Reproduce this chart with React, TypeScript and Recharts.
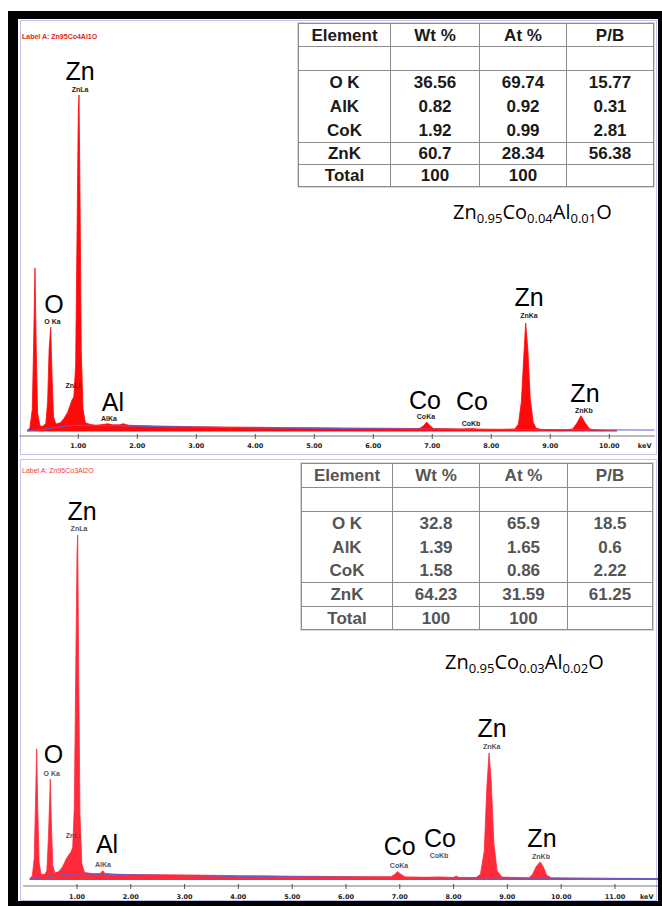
import React from 'react';
import { ComposedChart, Area, Line, XAxis, YAxis, ReferenceDot } from 'recharts';

// ---------- Panel 1 (Zn0.95Co0.04Al0.01O) ----------
const spectrum1: [number, number][] = [
  [0.13, 0.2], [0.18, 1.0], [0.22, 6], [0.245, 25], [0.266, 44], [0.285, 24], [0.31, 5], [0.35, 1.5],
  [0.4, 1.4], [0.45, 2.2], [0.48, 8], [0.505, 22], [0.532, 28.1], [0.555, 15], [0.58, 4], [0.62, 2.0],
  [0.7, 2.4], [0.76, 3.6], [0.82, 5.2], [0.86, 7], [0.893, 8.5], [0.925, 9.3], [0.955, 18], [0.98, 55],
  [1.0, 86], [1.012, 90.6], [1.03, 62], [1.05, 22], [1.08, 6], [1.12, 2.4], [1.2, 1.9], [1.3, 1.7],
  [1.42, 1.9], [1.5, 2.1], [1.58, 1.8], [1.7, 1.8], [1.76, 2.1], [1.85, 1.7], [2.0, 1.6], [2.3, 1.5],
  [2.6, 1.4], [3.0, 1.3], [3.5, 1.2], [4.0, 1.15], [4.5, 1.05], [5.0, 1.0], [5.5, 0.95], [6.0, 0.9],
  [6.5, 0.85], [6.78, 0.8], [6.85, 1.5], [6.905, 2.56], [6.96, 1.6], [7.02, 0.8], [7.5, 0.7], [7.66, 0.8],
  [7.8, 0.65], [8.2, 0.6], [8.4, 0.7], [8.46, 2.0], [8.51, 8], [8.55, 20], [8.583, 29.2], [8.62, 22],
  [8.66, 9], [8.71, 2.5], [8.76, 0.9], [8.85, 0.55], [9.3, 0.5], [9.38, 0.7], [9.45, 2.2], [9.52, 4.25],
  [9.59, 2.4], [9.66, 0.8], [9.72, 0.5], [9.85, 0.4], [10.13, 0.3],
];
const background1: [number, number][] = [
  [0.13, 0.2], [0.4, 0.6], [0.7, 1.3], [1.0, 1.7], [1.5, 1.6], [2.5, 1.3], [4.0, 1.0], [6.0, 0.75], [8.0, 0.55], [10.77, 0.4],
];
const ticks1 = [1, 2, 3, 4, 5, 6, 7, 8, 9, 10];
const unitPos1 = 10.6;
const bigLabels1: [string, number, number][] = [
  ['Zn', 1.029, 94.6], ['O', 0.588, 31.9], ['Al', 1.588, 5.5], ['Co', 6.876, 6.06],
  ['Co', 7.673, 5.79], ['Zn', 8.639, 33.9], ['Zn', 9.588, 7.94],
];
const lineLabels1: [string, number, number][] = [
  ['ZnLa', 1.029, 91.4], ['O Ka', 0.563, 28.9], ['ZnLl', 0.91, 11.7], ['AlKa', 1.52, 2.83],
  ['CoKa', 6.893, 3.36], ['CoKb', 7.656, 1.48], ['ZnKa', 8.639, 30.6], ['ZnKb', 9.571, 4.98],
];
const wt1 = ['36.56', '0.82', '1.92', '60.7', '100'];
const at1 = ['69.74', '0.92', '0.99', '28.34', '100'];
const pb1 = ['15.77', '0.31', '2.81', '56.38', ''];

// ---------- Panel 2 (Zn0.95Co0.03Al0.02O) ----------
const spectrum2: [number, number][] = [
  [0.12, 0.3], [0.17, 1.2], [0.205, 6], [0.23, 22], [0.251, 36.2], [0.27, 20], [0.295, 5], [0.33, 1.6],
  [0.4, 1.5], [0.44, 2.6], [0.47, 12], [0.504, 27.9], [0.525, 15], [0.55, 4], [0.59, 1.9], [0.66, 2.3],
  [0.73, 3.6], [0.8, 5.8], [0.85, 7], [0.888, 7.7], [0.92, 9], [0.95, 20], [0.98, 62], [1.0, 90],
  [1.013, 95.3], [1.03, 60], [1.055, 18], [1.09, 4.5], [1.14, 2.1], [1.3, 1.7], [1.43, 1.8], [1.478, 2.57],
  [1.52, 1.8], [1.7, 1.6], [2.0, 1.5], [2.5, 1.45], [3.0, 1.4], [3.5, 1.3], [4.0, 1.2], [4.5, 1.15],
  [5.0, 1.05], [5.5, 1.0], [6.0, 0.95], [6.5, 0.9], [6.84, 0.9], [6.91, 1.6], [6.96, 2.3], [7.02, 1.6],
  [7.1, 0.85], [7.5, 0.75], [7.75, 0.85], [8.0, 0.7], [8.05, 1.1], [8.1, 0.7], [8.42, 0.7], [8.5, 1.6],
  [8.57, 8], [8.62, 26], [8.66, 35.1], [8.7, 27], [8.75, 10], [8.81, 2.5], [8.9, 0.8], [9.4, 0.6],
  [9.46, 1.4], [9.54, 3.8], [9.61, 4.97], [9.67, 3.6], [9.73, 1.3], [9.82, 0.6], [10.5, 0.5], [11.0, 0.45],
  [11.8, 0.4],
];
const background2: [number, number][] = [
  [0.12, 0.2], [0.4, 0.7], [0.7, 1.4], [1.0, 1.7], [1.5, 1.6], [2.5, 1.3], [4.0, 1.0], [6.0, 0.8], [8.0, 0.6], [11.8, 0.4],
];
const ticks2 = [1, 2, 3, 4, 5, 6, 7, 8, 9, 10, 11];
const unitPos2 = 11.59;
const bigLabels2: [string, number, number][] = [
  ['Zn', 1.093, 99.4], ['O', 0.563, 32.4], ['Al', 1.558, 7.46], ['Co', 7.0, 6.9],
  ['Co', 7.747, 9.1], ['Zn', 8.714, 39.5], ['Zn', 9.643, 9.1],
];
const lineLabels2: [string, number, number][] = [
  ['ZnLa', 1.037, 96.4], ['O Ka', 0.53, 28.8], ['ZnLl', 0.926, 11.6], ['AlKa', 1.483, 3.6],
  ['CoKa', 6.985, 3.3], ['CoKb', 7.729, 6.1], ['ZnKa', 8.708, 36.2], ['ZnKb', 9.625, 5.8],
];
const wt2 = ['32.8', '1.39', '1.58', '64.23', '100'];
const at2 = ['65.9', '1.65', '0.86', '31.59', '100'];
const pb2 = ['18.5', '0.6', '2.22', '61.25', ''];

// ---------- shared ----------
const tableHeader = ['Element', 'Wt %', 'At %', 'P/B'];
const elements = ['O K', 'AlK', 'CoK', 'ZnK', 'Total'];

type Row = { e: number; c: number | null; b: number | null };
function buildRows(spec: [number, number][], bg: [number, number][]): Row[] {
  const map = new Map<number, Row>();
  spec.forEach(([e, c]) => map.set(e, { e, c, b: null }));
  bg.forEach(([e, b]) => {
    const r = map.get(e);
    if (r) r.b = b;
    else map.set(e, { e, c: null, b });
  });
  return Array.from(map.values()).sort((a, b) => a.e - b.e);
}

const BigLabel = (props: any) => {
  const { viewBox, text } = props;
  const x = viewBox.x + (viewBox.width || 0) / 2;
  const y = viewBox.y + (viewBox.height || 0) / 2;
  return (
    <text x={x} y={y} textAnchor="middle" fontSize={25} fontFamily="'Liberation Sans', Arial, sans-serif" fill="#000">
      {text}
    </text>
  );
};

const SmallLabel = (props: any) => {
  const { viewBox, text, color } = props;
  const x = viewBox.x + (viewBox.width || 0) / 2;
  const y = viewBox.y + (viewBox.height || 0) / 2;
  return (
    <text x={x} y={y} textAnchor="middle" fontSize={7} fontWeight="bold" fontFamily="'Liberation Sans', Arial, sans-serif" fill={color}>
      {text}
    </text>
  );
};

const AxisTick = (props: any) => {
  const { x, y, payload, unitAt, dy } = props;
  const v = payload.value;
  const common = { fontSize: 6.5, fontWeight: 'bold' as const, fontFamily: "'DejaVu Sans', sans-serif", fill: '#222' };
  if (Math.abs(v - unitAt) < 1e-6) {
    return (
      <text x={x} y={y + dy} textAnchor="middle" {...common}>keV</text>
    );
  }
  return (
    <g>
      <line x1={x} x2={x} y1={y - 2} y2={y + 3} stroke="#555" strokeWidth={1} />
      <text x={x} y={y + dy} textAnchor="middle" {...common}>{v.toFixed(2)}</text>
    </g>
  );
};

type SpecProps = {
  spec: [number, number][];
  bg: [number, number][];
  ticks: number[];
  unitAt: number;
  xMax: number;
  yMin: number;
  width: number;
  height: number;
  margin: { top: number; right: number; bottom: number; left: number };
  fill: string;
  big: [string, number, number][];
  small: [string, number, number][];
  smallColor: string;
  tickDy: number;
};

const Spectrum = (p: SpecProps) => {
  const rows = buildRows(p.spec, p.bg);
  return (
    <ComposedChart width={p.width} height={p.height} data={rows} margin={p.margin}>
      <XAxis
        dataKey="e"
        type="number"
        domain={[0, p.xMax]}
        ticks={[...p.ticks, p.unitAt]}
        interval={0}
        height={20}
        tickSize={0}
        tickMargin={0}
        tickLine={false}
        axisLine={{ stroke: '#777', strokeWidth: 1 }}
        tick={<AxisTick unitAt={p.unitAt} dy={p.tickDy} />}
        allowDataOverflow
      />
      <YAxis hide type="number" domain={[p.yMin, 100]} allowDataOverflow />
      <Area
        type="linear"
        dataKey="c"
        baseValue={0}
        stroke={p.fill}
        strokeWidth={0.8}
        fill={p.fill}
        fillOpacity={1}
        connectNulls
        dot={false}
        activeDot={false}
        isAnimationActive={false}
      />
      <Line
        type="monotone"
        dataKey="b"
        stroke="#6a5acd"
        strokeWidth={1}
        dot={false}
        activeDot={false}
        connectNulls
        isAnimationActive={false}
      />
    </ComposedChart>
  );
};

// Transparent overlay with the same scales, carrying the peak annotations above the fill.
// The x axis is hidden here, so its 20px height is added to the bottom margin instead.
const Annotations = (p: SpecProps) => {
  const rows = buildRows(p.spec, p.bg);
  const m = { ...p.margin, bottom: p.margin.bottom + 20 };
  return (
    <ComposedChart width={p.width} height={p.height} data={rows} margin={m}>
      <XAxis dataKey="e" type="number" domain={[0, p.xMax]} hide allowDataOverflow />
      <YAxis hide type="number" domain={[p.yMin, 100]} allowDataOverflow />
      {p.big.map(([t, e, c], i) => (
        <ReferenceDot key={'b' + i} x={e} y={c} r={0} fill="none" stroke="none" ifOverflow="visible" label={<BigLabel text={t} />} />
      ))}
      {p.small.map(([t, e, c], i) => (
        <ReferenceDot key={'s' + i} x={e} y={c} r={0} fill="none" stroke="none" ifOverflow="visible" label={<SmallLabel text={t} color={p.smallColor} />} />
      ))}
    </ComposedChart>
  );
};

type TableProps = {
  left: number;
  top: number;
  colWidths: number[];
  rowHeights: number[];
  wt: string[];
  at: string[];
  pb: string[];
  color: string;
};

const EdxTable = (p: TableProps) => {
  const line = '1px solid #8c8c8c';
  const bodyRows = elements.map((el, i) => [el, p.wt[i], p.at[i], p.pb[i]]);
  const all = [tableHeader, ['', '', '', ''], ...bodyRows];
  const total = p.colWidths.reduce((a, b) => a + b, 0);
  return (
    <table
      style={{
        position: 'absolute',
        left: p.left,
        top: p.top,
        borderCollapse: 'collapse',
        tableLayout: 'fixed',
        width: total,
        fontFamily: "'Liberation Sans', Arial, sans-serif",
        fontWeight: 'bold',
        fontSize: 17,
        color: p.color,
        background: '#fff',
        borderBottom: line,
        boxShadow: '0 0 0 1px #d8d8d8',
      }}
    >
      <colgroup>
        {p.colWidths.map((w, i) => (
          <col key={i} style={{ width: w }} />
        ))}
      </colgroup>
      <tbody>
        {all.map((r, ri) => (
          <tr key={ri} style={{ height: p.rowHeights[ri], lineHeight: '17px' }}>
            {r.map((c, ci) => (
              <td
                key={ci}
                style={{
                  padding: 0,
                  textAlign: 'center',
                  verticalAlign: 'middle',
                  borderLeft: line,
                  borderRight: line,
                  borderTop: ri === 3 || ri === 4 ? 'none' : line,
                  borderBottom: 'none',
                }}
              >
                {c}
              </td>
            ))}
          </tr>
        ))}
      </tbody>
    </table>
  );
};

const Formula = ({ left, top, parts }: { left: number; top: number; parts: [string, string][] }) => (
  <div
    style={{
      position: 'absolute',
      left,
      top,
      fontFamily: "'Open Sans', 'Noto Sans', sans-serif",
      fontSize: 20,
      lineHeight: '20px',
      color: '#000',
      whiteSpace: 'nowrap',
    }}
  >
    {parts.map(([m, s], i) => (
      <React.Fragment key={i}>
        <span>{m}</span>
        {s ? <span style={{ fontSize: 13, position: 'relative', top: 4 }}>{s}</span> : null}
      </React.Fragment>
    ))}
  </div>
);

const formula1: [string, string][] = [['Zn', '0.95'], ['Co', '0.04'], ['Al', '0.01'], ['O', '']];
const formula2: [string, string][] = [['Zn', '0.95'], ['Co', '0.03'], ['Al', '0.02'], ['O', '']];

const panel1: SpecProps = {
  spec: spectrum1,
  bg: background1,
  ticks: ticks1,
  unitAt: unitPos1,
  xMax: 10.77,
  yMin: -1.2,
  width: 662,
  height: 460,
  margin: { top: 60, right: 7.3, bottom: 4, left: 19.3 },
  fill: '#ff0a0a',
  big: bigLabels1,
  small: lineLabels1,
  smallColor: '#222',
  tickDy: 11.5,
};

const panel2: SpecProps = {
  spec: spectrum2,
  bg: background2,
  ticks: ticks2,
  unitAt: unitPos2,
  xMax: 11.8,
  yMin: -1.66,
  width: 662,
  height: 448,
  margin: { top: 60, right: 4, bottom: 0, left: 23.2 },
  fill: '#ff2b3a',
  big: bigLabels2,
  small: lineLabels2,
  smallColor: '#555',
  tickDy: 12.8,
};

export default function App() {
  return (
    <div style={{ position: 'absolute', left: 0, top: 0, width: 662, height: 906, background: '#fff', overflow: 'hidden' }}>
      <div style={{ position: 'absolute', left: 8, top: 11, width: 654, height: 895, background: '#000' }} />
      <div style={{ position: 'absolute', left: 18, top: 19, width: 640, height: 882, background: '#fff' }} />
      <div style={{ position: 'absolute', left: 20, top: 20, width: 637, height: 435, border: '1px solid #c4c4ec', boxSizing: 'border-box' }} />
      <div style={{ position: 'absolute', left: 20, top: 459, width: 637, height: 442, border: '1px solid #c4c4ec', boxSizing: 'border-box' }} />

      <div style={{ position: 'absolute', left: 0, top: 0 }}>
        <Spectrum {...panel1} />
      </div>
      <div style={{ position: 'absolute', left: 0, top: 458 }}>
        <Spectrum {...panel2} />
      </div>

      <div style={{ position: 'absolute', left: 22, top: 33, fontFamily: "'Liberation Sans', Arial, sans-serif", fontSize: 7, lineHeight: '8px', fontWeight: 'bold', color: '#e52222', whiteSpace: 'nowrap' }}>
        Label A: Zn95Co4Al1O
      </div>
      <div style={{ position: 'absolute', left: 22, top: 467, fontFamily: "'Liberation Sans', Arial, sans-serif", fontSize: 7, lineHeight: '8px', color: '#f04040', whiteSpace: 'nowrap' }}>
        Label A: Zn95Co3Al2O
      </div>

      <EdxTable left={298} top={23} colWidths={[92, 89, 87, 87]} rowHeights={[23, 24, 24, 24, 24, 22, 22]} wt={wt1} at={at1} pb={pb1} color="#1a1a1a" />
      <EdxTable left={301} top={463} colWidths={[91, 87, 88, 85]} rowHeights={[24, 24, 24, 24, 23, 24, 23]} wt={wt2} at={at2} pb={pb2} color="#555" />

      <Formula left={453} top={202} parts={formula1} />
      <Formula left={445} top={652} parts={formula2} />

      <div style={{ position: 'absolute', left: 0, top: 0, pointerEvents: 'none' }}>
        <Annotations {...panel1} />
      </div>
      <div style={{ position: 'absolute', left: 0, top: 458, pointerEvents: 'none' }}>
        <Annotations {...panel2} />
      </div>
    </div>
  );
}
